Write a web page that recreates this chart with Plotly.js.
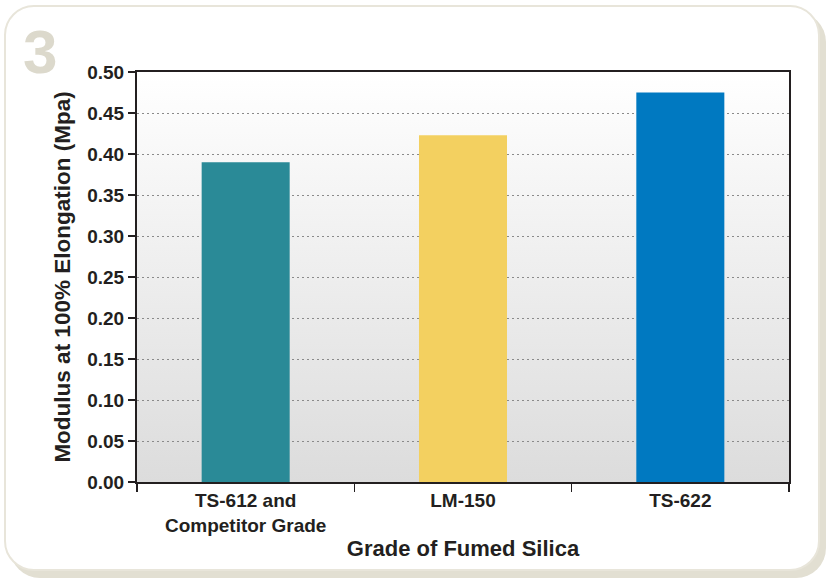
<!DOCTYPE html>
<html><head><meta charset="utf-8">
<script src="https://cdn.plot.ly/plotly-3.0.1.min.js"></script>
<style>
html,body{margin:0;padding:0;background:#fff;width:830px;height:583px;overflow:hidden;}
#card{position:absolute;left:4px;top:5px;width:812px;height:562px;border:2px solid #e8e5da;border-radius:30px;box-shadow:6px 7px 0 #e2dfd2;background:#fff;}
#chart{position:absolute;left:0;top:0;width:830px;height:583px;}
</style></head>
<body>
<div id="card"></div>
<div id="chart"></div>
<script>
const categories = ["TS-612 and<br>Competitor Grade", "LM-150", "TS-622"];
const values = [0.390, 0.423, 0.475];
const colors = ["#2a8a97", "#f3d060", "#0079c1"];
const yTicks = [0, 0.05, 0.10, 0.15, 0.20, 0.25, 0.30, 0.35, 0.40, 0.45, 0.50];

const grad = 'data:image/svg+xml;utf8,' + encodeURIComponent(
 '<svg xmlns="http://www.w3.org/2000/svg" width="10" height="100" preserveAspectRatio="none"><defs><linearGradient id="g" x1="0" y1="0" x2="0" y2="1"><stop offset="0" stop-color="#ffffff"/><stop offset="1" stop-color="#dcdcdc"/></linearGradient></defs><rect width="10" height="100" fill="url(#g)"/></svg>');

const fam = "Liberation Sans, Arial, sans-serif";
const ink = "#231f20";

Plotly.newPlot("chart", [{
  type: "bar", x: categories, y: values,
  marker: {color: colors, line: {width: 0}},
  width: 0.405, hoverinfo: "none"
}], {
  width: 830, height: 583,
  margin: {l: 137, r: 41, t: 72, b: 101},
  paper_bgcolor: "rgba(0,0,0,0)", plot_bgcolor: "rgba(0,0,0,0)",
  showlegend: false,
  font: {family: fam, color: ink},
  images: [{source: grad, xref: "paper", yref: "paper", x: 0, y: 1, sizex: 1, sizey: 1, sizing: "stretch", layer: "below", xanchor: "left", yanchor: "top"}],
  xaxis: {
    type: "category", tickson: "boundaries", ticks: "outside", ticklen: 8, tickwidth: 1.5, tickcolor: ink,
    showline: true, linecolor: ink, linewidth: 2, mirror: true, showgrid: false,
    tickfont: {family: fam, size: 19, color: ink, weight: "bold"},
    title: {text: "<b>Grade of Fumed Silica</b>", font: {family: fam, size: 22, color: ink}, standoff: 6}
  },
  yaxis: {
    range: [0, 0.5], tickvals: yTicks, tickformat: ".2f",
    ticks: "outside", ticklen: 7, tickwidth: 1.5, tickcolor: ink,
    showline: true, linecolor: ink, linewidth: 2, mirror: true,
    showgrid: true, gridcolor: "#8a8a8a", griddash: "2px,3px", gridwidth: 1, zeroline: false,
    tickfont: {family: fam, size: 19, color: ink, weight: "bold"},
    title: {text: "<b>Modulus at 100% Elongation (Mpa)</b>", font: {family: fam, size: 22.5, color: ink}, standoff: 10}
  },
  annotations: [{
    text: "<b>3</b>", xref: "paper", yref: "paper", x: -0.149, y: 1.049, xanchor: "center", yanchor: "middle",
    showarrow: false, font: {family: fam, size: 62, color: "#dcd9cc"}
  }]
}, {staticPlot: true});
</script>
</body></html>
